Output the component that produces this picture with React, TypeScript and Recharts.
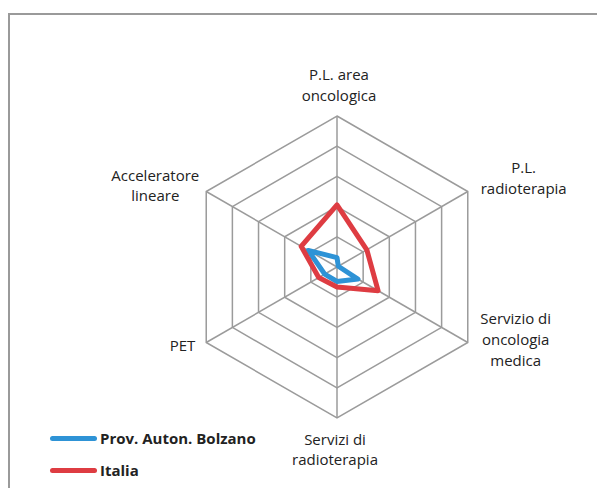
import { RadarChart, Radar, PolarGrid, PolarAngleAxis, PolarRadiusAxis } from "recharts";

// Axes of the radar, clockwise from the top
const categories = [
  "P.L. area oncologica",
  "P.L. radioterapia",
  "Servizio di oncologia medica",
  "Servizi di radioterapia",
  "PET",
  "Acceleratore lineare",
];

// How each category label is broken into lines
const labelLines = [
  ["P.L. area", "oncologica"],
  ["P.L.", "radioterapia"],
  ["Servizio di", "oncologia", "medica"],
  ["Servizi di", "radioterapia"],
  ["PET"],
  ["Acceleratore", "lineare"],
];

// Values (grid units, 5 rings)
const bolzano = [0.31, 0.05, 0.8, 0.48, 0.47, 1.1];
const italia = [2.06, 1.14, 1.57, 0.66, 0.7, 1.37];

const seriesNames = ["Prov. Auton. Bolzano", "Italia"];
const COLORS = ["#2E93D6", "#DE3C42"];

const data = categories.map((c, i) => ({
  name: c,
  bolzano: bolzano[i],
  italia: italia[i],
}));

const FONT = "'Open Sans', sans-serif";

// offset of the first line from the tick point, per label
const LABEL_POS = [
  { dx: 2, dy: -34, anchor: "middle", lh: 21 },
  { dx: 49, dy: -21, anchor: "middle", lh: 21 },
  { dx: 41, dy: -29, anchor: "middle", lh: 21 },
  { dx: -2, dy: 13, anchor: "middle", lh: 20 },
  { dx: -4, dy: -2, anchor: "end", lh: 20 },
  { dx: -44, dy: -13, anchor: "middle", lh: 20 },
];

function AngleTick(props: any) {
  const { x, y, index } = props;
  const pos = LABEL_POS[index];
  const lines = labelLines[index];
  return (
    <text
      x={x + pos.dx}
      y={y + pos.dy}
      textAnchor={pos.anchor}
      dominantBaseline="central"
      fontFamily={FONT}
      fontSize={15}
      fill="#222"
    >
      {lines.map((l, i) => (
        <tspan key={i} x={x + pos.dx} dy={i === 0 ? 0 : pos.lh}>
          {l}
        </tspan>
      ))}
    </text>
  );
}

export default function App() {
  return (
    <div style={{ position: "relative", width: 597, height: 480 }}>
      {/* gray frame, only top and left edges are visible */}
      <div
        style={{
          position: "absolute",
          left: 0,
          top: 5,
          width: 597,
          height: 475,
          boxSizing: "border-box",
          borderTop: "2px solid #9a9a9a",
          borderLeft: "2px solid #9a9a9a",
        }}
      />
      <div style={{ position: "absolute", left: 0, top: 0 }}>
        <RadarChart
          width={597}
          height={480}
          data={data}
          cx={329}
          cy={259}
          outerRadius={151}
          margin={{ top: 0, right: 0, bottom: 0, left: 0 }}
        >
          <PolarGrid stroke="#9b9b9b" strokeWidth={1.5} />
          <PolarAngleAxis
            dataKey="name"
            tick={<AngleTick />}
            tickLine={false}
            axisLine={false}
          />
          <PolarRadiusAxis
            domain={[0, 5]}
            tickCount={6}
            tick={false}
            axisLine={false}
          />
          <Radar
            name={seriesNames[0]}
            dataKey="bolzano"
            stroke={COLORS[0]}
            strokeWidth={5}
            strokeLinejoin="round"
            fill="none"
            fillOpacity={0}
            isAnimationActive={false}
          />
          <Radar
            name={seriesNames[1]}
            dataKey="italia"
            stroke={COLORS[1]}
            strokeWidth={5}
            strokeLinejoin="round"
            fill="none"
            fillOpacity={0}
            isAnimationActive={false}
          />
        </RadarChart>
      </div>
      {/* legend */}
      {seriesNames.map((n, i) => (
        <div
          key={n}
          style={{
            position: "absolute",
            left: 42,
            top: 420 + i * 32,
            height: 20,
            display: "flex",
            alignItems: "center",
            fontFamily: FONT,
            fontWeight: 700,
            fontSize: 15,
            color: "#222",
          }}
        >
          <div
            style={{
              width: 47,
              height: 5,
              borderRadius: 3,
              background: COLORS[i],
              marginRight: 3,
            }}
          />
          <span>{n}</span>
        </div>
      ))}
    </div>
  );
}
